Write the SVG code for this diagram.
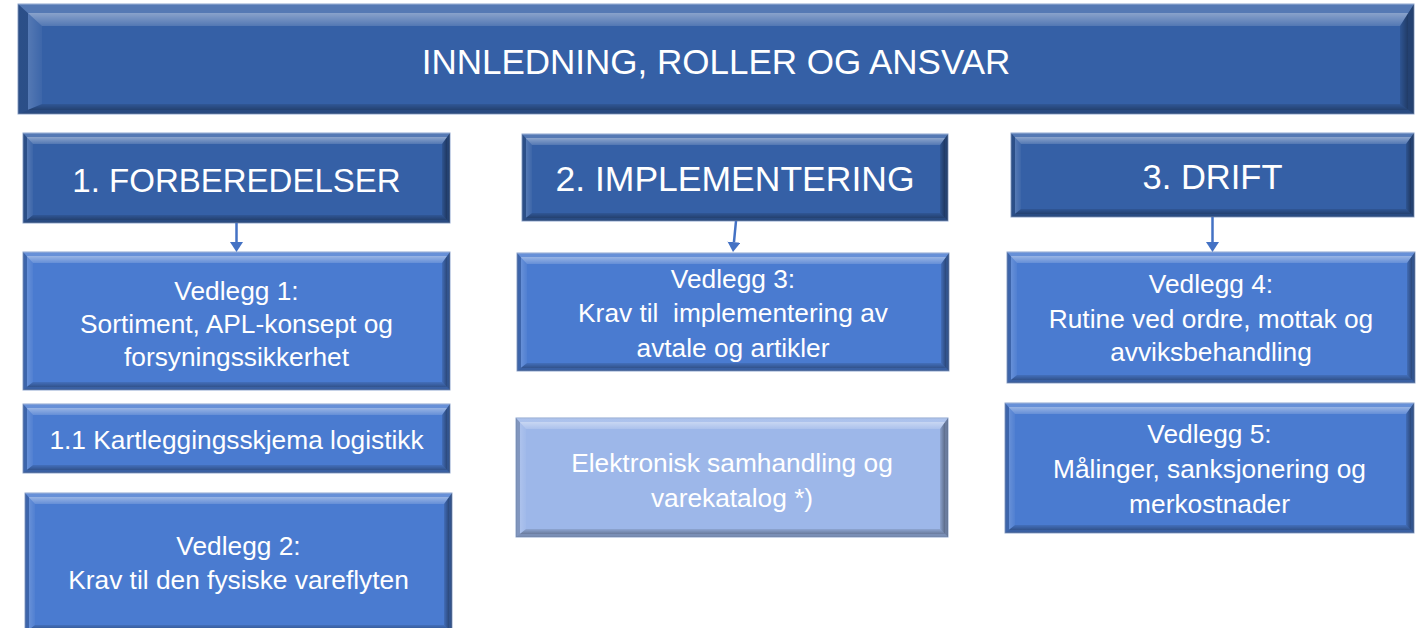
<svg xmlns="http://www.w3.org/2000/svg" width="1416" height="628" viewBox="0 0 1416 628">
<style>
.dk{fill:#3560a6;stroke:#8ea6cf;stroke-width:1}
.md{fill:#4a7bd0;stroke:#8ea6cf;stroke-width:1}
.lt{fill:#9db7e9;stroke:#8ea6cf;stroke-width:1}
.bt{fill:url(#gT)}
.bl{fill:url(#gL)}
.br{fill:url(#gR)}
.bb{fill:url(#gB)}
text{font-family:"Liberation Sans",Arial,sans-serif;fill:#ffffff;text-anchor:middle}
.title{font-size:35px}
.hdr{font-size:34px}
.body{font-size:26.3px}
.conn line{stroke:#4472c4;stroke-width:2.5;fill:none}
</style>
<defs>
<linearGradient id="gT" x1="0" y1="0" x2="0" y2="1">
<stop offset="0" stop-color="#fff" stop-opacity="0.16"/>
<stop offset="0.4" stop-color="#fff" stop-opacity="0.16"/>
<stop offset="0.4" stop-color="#fff" stop-opacity="0.42"/>
<stop offset="1" stop-color="#fff" stop-opacity="0.15"/>
</linearGradient>
<linearGradient id="gL" x1="0" y1="0" x2="1" y2="0">
<stop offset="0" stop-color="#000" stop-opacity="0.18"/>
<stop offset="0.4" stop-color="#000" stop-opacity="0.18"/>
<stop offset="0.4" stop-color="#fff" stop-opacity="0.16"/>
<stop offset="1" stop-color="#fff" stop-opacity="0.04"/>
</linearGradient>
<linearGradient id="gR" x1="1" y1="0" x2="0" y2="0">
<stop offset="0" stop-color="#000" stop-opacity="0.32"/>
<stop offset="0.4" stop-color="#000" stop-opacity="0.32"/>
<stop offset="0.4" stop-color="#000" stop-opacity="0.4"/>
<stop offset="1" stop-color="#000" stop-opacity="0.12"/>
</linearGradient>
<linearGradient id="gB" x1="0" y1="1" x2="0" y2="0">
<stop offset="0" stop-color="#000" stop-opacity="0.22"/>
<stop offset="0.4" stop-color="#000" stop-opacity="0.22"/>
<stop offset="0.4" stop-color="#000" stop-opacity="0.32"/>
<stop offset="1" stop-color="#000" stop-opacity="0.1"/>
</linearGradient>
<marker id="ah" markerUnits="userSpaceOnUse" markerWidth="10" markerHeight="13" refX="0" refY="6.5" orient="auto" viewBox="0 0 10 13">
<path d="M0,0 L10,6.5 L0,13 z" fill="#4472c4"/>
</marker>
</defs>

<g id="n-intro">
<rect class="dk" x="18" y="4" width="1396" height="110"/>
<polygon class="bt" points="18,4 1414,4 1400,26 42,26"/>
<polygon class="bl" points="18,4 42,26 42,104 18,114"/>
<polygon class="br" points="1414,4 1414,114 1400,104 1400,26"/>
<polygon class="bb" points="18,114 42,104 1400,104 1414,114"/>
<text class="title" x="716" y="74">INNLEDNING, ROLLER OG ANSVAR</text>
</g>

<g id="n-forberedelser">
<rect class="dk" x="23" y="133" width="427" height="90"/>
<polygon class="bt" points="23,133 450,133 442,144 33,144"/>
<polygon class="bl" points="23,133 33,144 33,215 23,223"/>
<polygon class="br" points="450,133 450,223 442,215 442,144"/>
<polygon class="bb" points="23,223 33,215 442,215 450,223"/>
<text class="hdr" x="236.5" y="192" style="font-size:33px">1. FORBEREDELSER</text>
</g>

<g id="n-implementering">
<rect class="dk" x="522" y="134" width="426" height="87"/>
<polygon class="bt" points="522,134 948,134 940,145 532,145"/>
<polygon class="bl" points="522,134 532,145 532,213 522,221"/>
<polygon class="br" points="948,134 948,221 940,213 940,145"/>
<polygon class="bb" points="522,221 532,213 940,213 948,221"/>
<text class="hdr" x="735" y="191" style="font-size:35.5px">2. IMPLEMENTERING</text>
</g>

<g id="n-drift">
<rect class="dk" x="1011" y="133" width="403" height="84"/>
<polygon class="bt" points="1011,133 1414,133 1406,144 1021,144"/>
<polygon class="bl" points="1011,133 1021,144 1021,209 1011,217"/>
<polygon class="br" points="1414,133 1414,217 1406,209 1406,144"/>
<polygon class="bb" points="1011,217 1021,209 1406,209 1414,217"/>
<text class="hdr" x="1212.5" y="189" style="font-size:34.5px">3. DRIFT</text>
</g>

<g id="n-vedlegg1">
<rect class="md" x="23" y="252" width="427" height="138"/>
<polygon class="bt" points="23,252 450,252 442,263 33,263"/>
<polygon class="bl" points="23,252 33,263 33,382 23,390"/>
<polygon class="br" points="450,252 450,390 442,382 442,263"/>
<polygon class="bb" points="23,390 33,382 442,382 450,390"/>
<text class="body" x="236.5" y="300">Vedlegg 1:</text>
<text class="body" x="236.5" y="333">Sortiment, APL-konsept og</text>
<text class="body" x="236.5" y="366">forsyningssikkerhet</text>
</g>

<g id="n-kartlegging">
<rect class="md" x="23" y="404" width="427" height="69"/>
<polygon class="bt" points="23,404 450,404 442,415 33,415"/>
<polygon class="bl" points="23,404 33,415 33,465 23,473"/>
<polygon class="br" points="450,404 450,473 442,465 442,415"/>
<polygon class="bb" points="23,473 33,465 442,465 450,473"/>
<text class="body" x="236.5" y="449">1.1 Kartleggingsskjema logistikk</text>
</g>

<g id="n-vedlegg2">
<rect class="md" x="25" y="493" width="427" height="140"/>
<polygon class="bt" points="25,493 452,493 444,504 35,504"/>
<polygon class="bl" points="25,493 35,504 35,625 25,633"/>
<polygon class="br" points="452,493 452,633 444,625 444,504"/>
<polygon class="bb" points="25,633 35,625 444,625 452,633"/>
<text class="body" x="238.5" y="555">Vedlegg 2:</text>
<text class="body" x="238.5" y="589">Krav til den fysiske vareflyten</text>
</g>

<g id="n-vedlegg3">
<rect class="md" x="517" y="253" width="432" height="118"/>
<polygon class="bt" points="517,253 949,253 941,264 527,264"/>
<polygon class="bl" points="517,253 527,264 527,363 517,371"/>
<polygon class="br" points="949,253 949,371 941,363 941,264"/>
<polygon class="bb" points="517,371 527,363 941,363 949,371"/>
<text class="body" x="733" y="288">Vedlegg 3:</text>
<text class="body" x="733" y="322" xml:space="preserve">Krav til  implementering av</text>
<text class="body" x="733" y="357">avtale og artikler</text>
</g>

<g id="n-elektronisk">
<rect class="lt" x="516" y="418" width="432" height="119"/>
<polygon class="bt" points="516,418 948,418 940,429 526,429"/>
<polygon class="bl" points="516,418 526,429 526,529 516,537"/>
<polygon class="br" points="948,418 948,537 940,529 940,429"/>
<polygon class="bb" points="516,537 526,529 940,529 948,537"/>
<text class="body" x="732" y="472">Elektronisk samhandling og</text>
<text class="body" x="732" y="507">varekatalog *)</text>
</g>

<g id="n-vedlegg4">
<rect class="md" x="1007" y="252" width="408" height="131"/>
<polygon class="bt" points="1007,252 1415,252 1407,263 1017,263"/>
<polygon class="bl" points="1007,252 1017,263 1017,375 1007,383"/>
<polygon class="br" points="1415,252 1415,383 1407,375 1407,263"/>
<polygon class="bb" points="1007,383 1017,375 1407,375 1415,383"/>
<text class="body" x="1211" y="293">Vedlegg 4:</text>
<text class="body" x="1211" y="328">Rutine ved ordre, mottak og</text>
<text class="body" x="1211" y="361">avviksbehandling</text>
</g>

<g id="n-vedlegg5">
<rect class="md" x="1005" y="403" width="409" height="130"/>
<polygon class="bt" points="1005,403 1414,403 1406,414 1015,414"/>
<polygon class="bl" points="1005,403 1015,414 1015,525 1005,533"/>
<polygon class="br" points="1414,403 1414,533 1406,525 1406,414"/>
<polygon class="bb" points="1005,533 1015,525 1406,525 1414,533"/>
<text class="body" x="1209.5" y="443">Vedlegg 5:</text>
<text class="body" x="1209.5" y="478">Målinger, sanksjonering og</text>
<text class="body" x="1209.5" y="513">merkostnader</text>
</g>

<g id="connectors" class="conn">
<line x1="236.5" y1="223" x2="236.5" y2="242" marker-end="url(#ah)"/>
<line x1="736" y1="221" x2="733.96" y2="242.05" marker-end="url(#ah)"/>
<line x1="1212.5" y1="217" x2="1212.5" y2="242" marker-end="url(#ah)"/>
</g>
</svg>
